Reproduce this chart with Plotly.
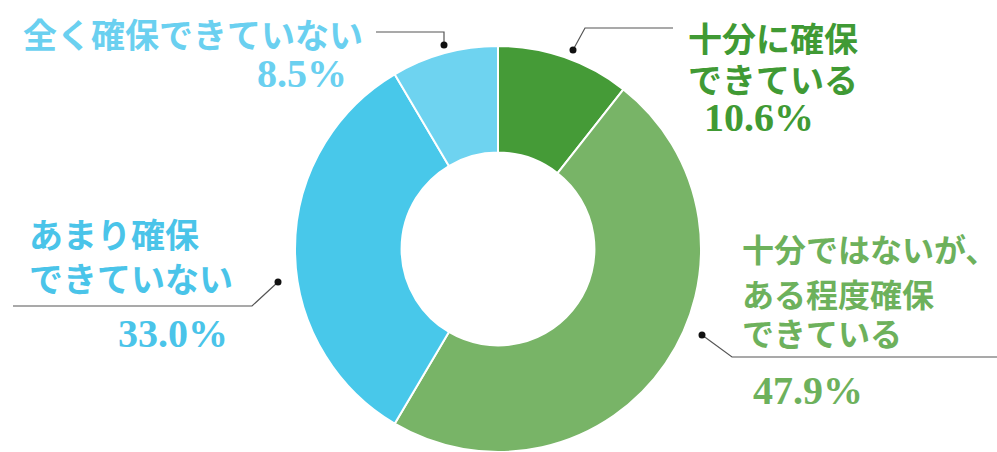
import plotly.graph_objects as go

# ---- data ----
labels = ["十分に確保できている", "十分ではないが、ある程度確保できている",
          "あまり確保できていない", "全く確保できていない"]
label_lines = [["十分に確保", "できている"],
               ["十分ではないが、", "ある程度確保", "できている"],
               ["あまり確保", "できていない"],
               ["全く確保できていない"]]
values = [10.6, 47.9, 33.0, 8.5]
pct_text = ["10.6%", "47.9%", "33.0%", "8.5%"]
slice_colors = ["#459B37", "#78B467", "#48C8EA", "#6ED3F0"]
text_colors = ["#409A34", "#6DB15C", "#4AC4E9", "#6AD0F0"]

W, H = 997, 452


def px(x, y):
    return x / W, 1 - y / H


fig = go.Figure()
fig.add_trace(go.Pie(
    labels=labels, values=values, hole=0.475, sort=False, direction="clockwise",
    rotation=0, textinfo="none", hoverinfo="label+percent",
    marker=dict(colors=slice_colors, line=dict(color="white", width=2)),
    domain=dict(x=[295 / W, 701 / W], y=[0, 406 / H]),
    showlegend=False,
))

jp_font = "Noto Sans CJK JP"
num_font = "Liberation Serif"

# label layout: line y positions, text x anchor, pct anchor, leader polyline
layout_spec = [
    dict(text_x=687, line_ys=[37, 78], size=34, anchor="left", pct_xy=(703, 117),
         path=[(573, 50), (585, 28), (673, 28)]),
    dict(text_x=741, line_ys=[248, 293, 332], size=32, anchor="left", pct_xy=(752, 390),
         path=[(702, 335), (732, 357), (997, 357)]),
    dict(text_x=28, line_ys=[233, 277], size=34, anchor="left", pct_xy=(117, 333),
         path=[(278, 282), (252, 306), (13, 306)]),
    dict(text_x=364, line_ys=[33], size=34, anchor="right", pct_xy=(348, 73),
         path=[(444, 45), (444, 32), (376, 32)]),
]

annotations = []
shapes = []
for i, spec in enumerate(layout_spec):
    for line, ly in zip(label_lines[i], spec["line_ys"]):
        tx, ty = px(spec["text_x"], ly)
        annotations.append(dict(
            x=tx, y=ty, xref="paper", yref="paper", xanchor=spec["anchor"], yanchor="middle",
            text=f"<b>{line}</b>", showarrow=False, borderpad=0, height=36,
            font=dict(family=jp_font, size=spec["size"], color=text_colors[i]),
        ))
    pxx, pyy = px(*spec["pct_xy"])
    annotations.append(dict(
        x=pxx, y=pyy, xref="paper", yref="paper", xanchor=spec["anchor"], yanchor="middle",
        text=f"<b>{pct_text[i]}</b>", showarrow=False, borderpad=0, height=38,
        font=dict(family=num_font, size=40, color=text_colors[i]),
    ))
    pts = [px(x, y) for x, y in spec["path"]]
    path = "M " + " L ".join(f"{x} {y}" for x, y in pts)
    shapes.append(dict(type="path", path=path, xref="paper", yref="paper",
                       line=dict(color="#555555", width=1.2)))
    dx, dy = spec["path"][0]
    r = 3.5
    x0, y0 = px(dx - r, dy + r)
    x1, y1 = px(dx + r, dy - r)
    shapes.append(dict(type="circle", xref="paper", yref="paper", x0=x0, y0=y0, x1=x1, y1=y1,
                       fillcolor="#111111", line=dict(width=0)))

fig.update_layout(
    width=W, height=H, margin=dict(l=0, r=0, t=0, b=0),
    paper_bgcolor="white", plot_bgcolor="white",
    annotations=annotations, shapes=shapes,
)

fig.write_html("out.html", config={"displayModeBar": False},
               post_script="document.body.style.margin='0';document.body.style.overflow='hidden';")
